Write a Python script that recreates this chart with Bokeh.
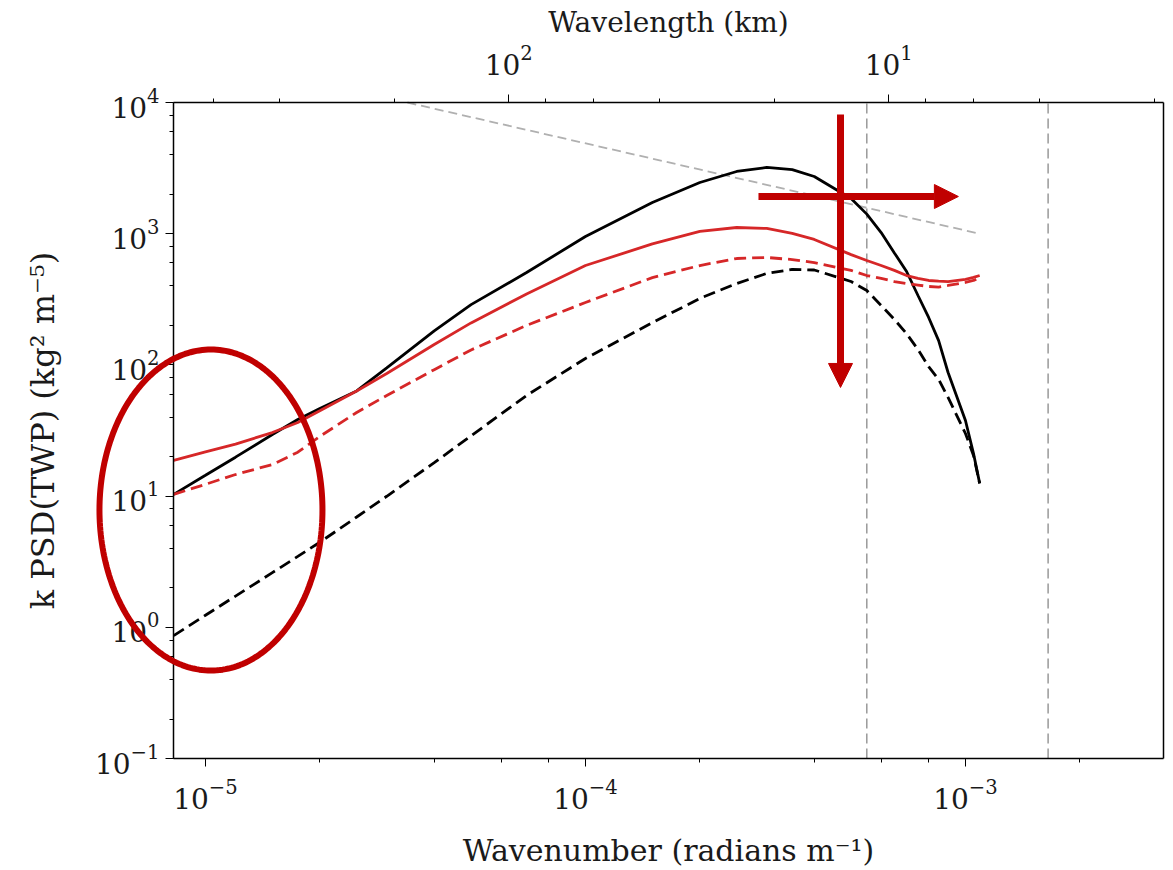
import numpy as np
from bokeh.plotting import figure
from bokeh.models import (Range1d, LogScale, LogAxis, LogTicker, Arrow, NormalHead,
                          PolyAnnotation, Label)
from bokeh.embed import file_html
from bokeh.resources import INLINE

# ---------------- data ----------------
wavenumber = [8.25e-6, 1e-5, 1.2e-5, 1.5e-5, 1.75e-5, 2e-5, 2.5e-5, 3e-5, 4e-5, 5e-5, 7e-5,
              1e-4, 1.5e-4, 2e-4, 2.5e-4, 3e-4, 3.5e-4, 4e-4, 5e-4, 5.5e-4, 6e-4, 6.5e-4,
              7e-4, 7.5e-4, 8e-4, 8.5e-4, 9e-4, 1e-3, 1.05e-3, 1.09e-3]
black_solid = [10.3, 14.4, 19.8, 29.5, 38.4, 46.5, 63.3, 95, 182, 288, 506,
               952, 1730, 2455, 2980, 3200, 3080, 2730, 1855, 1410, 1020, 714,
               515, 338, 230, 153, 87.5, 37.7, 21.1, 12.5]
black_dashed = [0.865, 1.235, 1.73, 2.61, 3.47, 4.45, 6.93, 9.97, 18.0, 28.8, 58.5,
                112, 210, 321, 417, 498, 534, 529, 432, 369, 284, 222,
                173, 131, 97, 77.5, 56.5, 30, 20.4, 12.5]
red_solid = [18.7, 21.7, 24.9, 30.5, 36.4, 44.7, 63.3, 86, 143, 209, 347,
             572, 836, 1040, 1115, 1097, 1004, 904, 693, 625, 572, 525,
             480, 456, 440, 435, 432, 448, 464, 480]
red_dashed = [10.3, 12.3, 14.6, 17.4, 21.6, 28.5, 43.4, 58.5, 92, 130, 200,
              299, 463, 572, 647, 659, 635, 602, 525, 480, 456, 432,
              417, 406, 396, 392, 403, 425, 440, 463]

# reference slope line (k^-2/3)
ref_k = [3.4e-5, 1.09e-3]
ref_psd = [1e4, 1e3]

# vertical reference wavenumbers
vlines_k = [5.5e-4, 1.65e-3]

x_lo, x_hi = 8.24e-6, 3.32e-3
y_lo, y_hi = 0.1, 1e4

x_title = "Wavenumber (radians m\u207b\u00b9)"
y_title = "k PSD(TWP) (kg\u00b2 m\u207b\u2075)"
top_title = "Wavelength (km)"

FONT = "DejaVu Serif"
RED = "#d62728"
ANNOT = "#C00000"
TXT = "#1a1a1a"

# ---------------- layout ----------------
# The frame covers the whole canvas so that the ellipse annotation can extend
# over the y tick labels; the axes are pinned to and bounded by the data box.
W, H = 1173, 870
BOX_L, BOX_R, BOX_T, BOX_B = 173, 1163, 102, 758
dppx = (np.log10(x_hi) - np.log10(x_lo)) / (BOX_R - BOX_L)
dppy = (np.log10(y_hi) - np.log10(y_lo)) / (BOX_B - BOX_T)
x_view_lo = 10 ** (np.log10(x_lo) - BOX_L * dppx)
x_view_hi = 10 ** (np.log10(x_hi) + (W - BOX_R) * dppx)
y_view_hi = 10 ** (np.log10(y_hi) + BOX_T * dppy)
y_view_lo = 10 ** (np.log10(y_lo) - (H - BOX_B) * dppy)

p = figure(width=W, height=H, x_axis_type="log", y_axis_type="log",
           x_range=Range1d(x_view_lo, x_view_hi), y_range=Range1d(y_view_lo, y_view_hi),
           output_backend="svg", toolbar_location=None,
           min_border=0, min_border_left=0, min_border_right=0,
           min_border_top=0, min_border_bottom=0)
p.title.visible = False
p.background_fill_color = "white"
p.border_fill_color = "white"
p.xgrid.visible = False
p.ygrid.visible = False
p.outline_line_color = None

bottom = p.below[0]
left = p.left[0]

# top axis: wavelength in km
wl_view_lo = 2 * np.pi / x_view_lo / 1000.0
wl_view_hi = 2 * np.pi / x_view_hi / 1000.0
wl_lo = 2 * np.pi / x_lo / 1000.0
wl_hi = 2 * np.pi / x_hi / 1000.0
p.extra_x_ranges = {"wl": Range1d(wl_view_lo, wl_view_hi)}
p.extra_x_scales = {"wl": LogScale()}
top = LogAxis(x_range_name="wl", ticker=LogTicker(mantissas=[1]))
p.add_layout(top, "above")

bottom.ticker = LogTicker(mantissas=[1])
left.ticker = LogTicker(mantissas=[1])
bottom.bounds = (x_lo, x_hi)
top.bounds = (wl_hi, wl_lo)
left.bounds = (y_lo, y_hi)
bottom.fixed_location = y_lo
top.fixed_location = y_hi
left.fixed_location = x_lo
left.axis_label = y_title

for ax in [bottom, left, top]:
    ax.axis_label_text_font = FONT
    ax.axis_label_text_font_style = "normal"
    ax.axis_label_text_color = TXT
    ax.major_label_text_font = FONT
    ax.major_label_text_font_size = "28px"
    ax.major_label_text_color = TXT
    ax.axis_line_width = 1.5
    ax.axis_line_color = "black"
    ax.major_tick_out = 8
    ax.major_tick_in = 0
    ax.minor_tick_out = 4
    ax.minor_tick_in = 0
    ax.major_tick_line_color = "black"
    ax.minor_tick_line_color = "black"

bottom.major_label_standoff = 12
left.axis_label_text_font_size = "32px"
left.major_label_standoff = 6
left.axis_label_standoff = 30
top.major_label_standoff = 20

# right border of the data box
p.segment(x0=[x_hi], y0=[y_lo], x1=[x_hi], y1=[y_hi], line_color="black", line_width=1.5)

# axis titles centred on the data box
x_mid = 10 ** ((np.log10(x_lo) + np.log10(x_hi)) / 2)
p.add_layout(Label(x=x_mid, y=10 ** (np.log10(y_lo) - 92 * dppy), text=x_title,
                   text_font=FONT, text_font_size="30px", text_color=TXT,
                   text_align="center", text_baseline="middle"))
p.add_layout(Label(x=x_mid, y=10 ** (np.log10(y_hi) + 80 * dppy), text=top_title,
                   text_font=FONT, text_font_size="28px", text_color=TXT,
                   text_align="center", text_baseline="middle"))

# reference lines
p.line(ref_k, ref_psd, line_color="#b0b0b0", line_width=1.8, line_dash="9 5")
p.segment(x0=vlines_k, y0=[y_lo] * len(vlines_k), x1=vlines_k, y1=[y_hi] * len(vlines_k),
          line_color="#999999", line_width=1.5, line_dash="10 5")

# curves
p.line(wavenumber, black_solid, line_color="black", line_width=2.8)
p.line(wavenumber, black_dashed, line_color="black", line_width=2.8, line_dash="12 6")
p.line(wavenumber, red_solid, line_color=RED, line_width=2.8)
p.line(wavenumber, red_dashed, line_color=RED, line_width=2.8, line_dash="12 6")

# annotation: ellipse (in log space)
ell_k, ell_psd = 1.034e-5, 7.83
ell_dx, ell_dy = 0.2934, 1.2233  # half-extents in decades
t = np.linspace(0, 2 * np.pi, 241)
ell_xs = list(10 ** (np.log10(ell_k) + ell_dx * np.cos(t)))
ell_ys = list(10 ** (np.log10(ell_psd) + ell_dy * np.sin(t)))
p.add_layout(PolyAnnotation(xs=ell_xs, ys=ell_ys, fill_alpha=0, line_color=ANNOT,
                            line_alpha=1.0, line_width=6))

# annotation arrows
p.add_layout(Arrow(x_start=2.853e-4, y_start=1921, x_end=9.58e-4, y_end=1921,
                   line_color=ANNOT, line_width=7,
                   end=NormalHead(size=24, fill_color=ANNOT, line_color=ANNOT)))
p.add_layout(Arrow(x_start=4.69e-4, y_start=8100, x_end=4.69e-4, y_end=67.3,
                   line_color=ANNOT, line_width=7,
                   end=NormalHead(size=24, fill_color=ANNOT, line_color=ANNOT)))

open("out.html", "w").write(file_html(p, INLINE))
